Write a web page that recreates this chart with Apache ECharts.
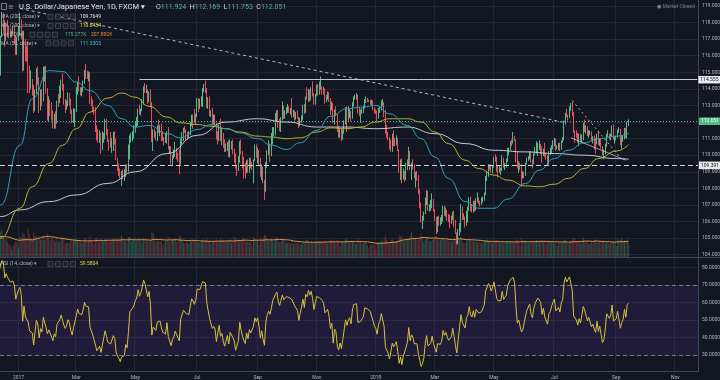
<!DOCTYPE html>
<html>
<head>
<meta charset="utf-8">
<title>USDJPY 1D</title>
<script src="https://cdn.jsdelivr.net/npm/echarts@6/dist/echarts.min.js"></script>
<style>
html,body{margin:0;padding:0;background:#131722;overflow:hidden;}
#chart{width:720px;height:380px;}
</style>
</head>
<body>
<div id="chart"></div>
<script>
// ================= DATA =================
const startDate = '2016-11-14';      // first (hidden warm-up) bar
const firstVisibleIndex = 22;        // 2016-12-14 is the first bar in view
const visibleBarCount = 508;         // bars across the plot, incl. empty future space

// daily bars: [open, high, low, close]
const ohlc = [
// 2016 Nov 14 - Dec 13 (warm-up, off-screen)
[106.65,108.55,106.6,108.45],[108.45,109.35,108.15,109.15],[109.15,109.6,108.55,109.1],[109.1,110.45,108.6,110.25],[110.25,110.95,110.0,110.9],
[110.9,111.35,110.3,110.8],[110.8,111.35,110.5,111.05],[111.05,112.75,110.95,112.45],[112.45,113.9,112.4,113.35],[113.35,113.5,112.65,113.2],
[113.2,113.3,111.35,112.0],[112.0,112.45,111.4,111.9],[111.9,114.8,111.8,114.45],[114.45,114.8,113.8,114.05],[114.05,114.2,113.35,113.5],
[113.5,114.75,112.9,113.95],[113.95,114.4,113.45,114.0],[114.0,114.4,113.6,113.75],[113.75,114.85,113.4,114.1],[114.1,115.35,113.9,115.3],
[115.3,116.1,114.8,115.2],[115.2,115.6,114.85,115.4],
// 2016 Dec 14 - 30
[115.4,117.2,114.8,117.15],[117.15,118.65,117.1,118.1],[118.1,118.6,117.45,117.95],[117.95,118.15,116.55,117.0],[117.0,118.0,116.9,117.85],
[117.85,118.15,117.1,117.6],[117.6,117.8,117.05,117.55],[117.55,117.65,117.1,117.3],[117.3,117.5,117.1,117.4],[117.4,117.8,117.3,117.45],
[117.45,117.85,116.7,117.2],[117.2,117.25,116.05,116.4],[116.4,117.15,116.05,116.95],
// 2017 Jan
[116.95,117.8,116.9,117.5],[117.5,118.6,117.2,117.75],[117.75,118.2,117.0,117.3],[117.3,117.5,115.05,115.35],[115.35,117.5,115.1,116.95],
[116.95,117.0,115.65,115.9],[115.9,116.6,115.65,115.75],[115.75,116.9,113.75,115.4],[115.4,115.4,113.75,114.45],[114.45,115.1,114.0,114.5],
[114.5,114.6,113.6,114.2],[114.2,114.25,112.55,112.7],[112.7,113.95,112.65,113.85],[113.85,115.25,113.7,115.05],[115.05,115.35,114.25,114.6],
[114.6,114.7,112.55,112.75],[112.75,113.95,112.7,113.75],[113.75,114.0,112.95,113.3],[113.3,115.35,113.25,115.05],[115.05,115.35,114.45,115.1],
[115.1,115.4,113.7,113.75],[113.75,114.05,112.1,112.8],
// 2017 Feb
[112.8,113.55,112.05,113.25],[113.25,113.35,112.35,112.8],[112.8,113.2,112.1,112.6],[112.6,112.7,111.6,111.7],[111.7,112.5,111.6,112.35],
[112.35,112.65,111.6,111.95],[111.95,113.3,111.9,113.25],[113.25,113.7,112.9,113.2],[113.2,114.2,113.15,113.7],[113.7,114.55,113.45,114.25],
[114.25,114.95,113.9,114.2],[114.2,114.3,113.05,113.2],[113.2,113.4,112.55,112.85],[112.85,113.3,112.75,113.15],[113.15,113.8,112.95,113.65],
[113.65,113.75,113.0,113.35],[113.35,113.4,112.5,112.6],[112.6,112.75,111.95,112.1],[112.1,112.85,111.95,112.7],[112.7,112.8,111.7,112.75],
// 2017 Mar
[112.75,114.1,112.6,113.75],[113.75,114.45,113.65,114.4],[114.4,114.75,113.85,114.05],[114.05,114.1,113.6,113.95],[113.95,114.1,113.55,113.95],
[113.95,114.5,113.8,114.35],[114.35,115.15,114.3,115.05],[115.05,115.5,114.6,114.8],[114.8,115.1,114.6,114.75],[114.75,115.05,114.45,114.75],
[114.75,115.0,113.1,113.35],[113.35,113.55,112.95,113.3],[113.3,113.35,112.6,112.7],[112.7,112.9,112.45,112.55],[112.55,112.9,111.4,111.75],
[111.75,111.8,110.9,111.15],[111.15,111.6,110.75,111.0],[111.0,111.5,110.75,111.3],[111.3,111.35,110.1,110.65],[110.65,111.45,110.3,111.05],
[111.05,111.35,110.75,111.05],[111.05,112.2,110.95,111.85],[111.85,112.2,111.2,111.4],
// 2017 Apr
[111.4,111.6,110.8,110.85],[110.85,110.95,110.25,110.75],[110.75,111.4,110.45,110.7],[110.7,111.05,110.15,110.75],[110.75,111.4,110.25,111.1],
[111.1,111.45,110.65,110.9],[110.9,111.0,109.7,109.75],[109.75,109.85,109.05,109.3],[109.3,109.5,108.75,109.05],[109.05,109.2,108.6,108.65],
[108.65,109.05,108.15,108.85],[108.85,109.15,108.55,108.75],[108.75,109.15,108.45,108.85],[108.85,109.45,108.7,109.3],[109.3,109.45,108.95,109.05],
[109.05,110.65,109.0,109.8],[109.8,111.2,109.75,111.05],[111.05,111.35,110.75,111.1],[111.1,111.45,110.85,111.3],[111.3,111.8,111.0,111.5],
// 2017 May
[111.5,112.05,111.35,111.85],[111.85,112.3,111.7,112.05],[112.05,112.8,111.75,112.75],[112.75,113.05,112.45,112.45],[112.45,112.8,112.4,112.7],
[112.7,113.4,112.65,113.25],[113.25,114.15,113.05,114.0],[114.0,114.35,113.75,113.85],[113.85,114.25,113.75,113.9],[113.9,113.95,113.1,113.3],
[113.3,113.85,113.2,113.75],[113.75,113.95,112.9,113.1],[113.1,113.2,110.8,110.85],[110.85,111.55,110.25,111.45],[111.45,111.6,111.05,111.3],
[111.3,111.45,110.9,111.15],[111.15,111.8,110.85,111.75],[111.75,112.15,111.35,111.6],[111.6,111.8,111.15,111.8],[111.8,111.9,110.85,111.3],
[111.3,111.45,110.85,110.95],[110.95,111.1,110.6,110.8],[110.8,111.35,110.75,110.8],
// 2017 Jun
[110.8,111.45,110.7,111.45],[111.45,111.7,110.35,110.4],[110.4,110.55,110.1,110.5],[110.5,110.55,109.45,109.5],[109.5,110.05,109.4,109.85],
[109.85,110.35,109.8,110.0],[110.0,110.8,109.9,110.35],[110.35,110.45,109.75,110.1],[110.1,110.15,109.6,110.05],[110.05,110.35,108.85,109.6],
[109.6,111.0,109.45,110.9],[110.9,111.4,110.65,110.9],[110.9,111.65,110.85,111.55],[111.55,111.75,111.35,111.45],[111.45,111.55,110.9,111.35],
[111.35,111.4,110.95,111.25],[111.25,111.45,111.05,111.3],[111.3,112.0,111.2,111.85],[111.85,112.45,111.75,112.35],[112.35,112.45,111.6,112.25],
[112.25,112.8,111.95,112.1],[112.1,112.5,111.85,112.4],
// 2017 Jul
[112.4,113.45,112.3,113.25],[113.25,113.45,112.6,113.2],[113.2,113.4,112.8,113.25],[113.25,113.55,112.95,113.25],[113.25,114.05,112.9,113.9],
[113.9,114.3,113.8,114.05],[114.05,114.5,113.75,113.95],[113.95,114.05,112.85,113.2],[113.2,113.5,112.8,113.3],[113.3,113.55,112.35,112.5],
[112.5,112.7,112.3,112.6],[112.6,112.85,111.8,111.95],[111.95,112.45,111.85,112.05],[112.05,112.45,111.7,111.9],[111.9,111.95,110.95,111.1],
[111.1,111.45,110.65,111.05],[111.05,111.85,110.85,111.85],[111.85,112.2,110.85,111.1],[111.1,111.65,110.6,111.25],[111.25,111.35,110.45,110.65],
[110.65,110.95,110.2,110.25],
// 2017 Aug
[110.25,110.7,110.2,110.3],[110.3,110.8,110.25,110.75],[110.75,110.9,109.9,110.1],[110.1,110.95,109.85,110.7],[110.7,110.85,110.35,110.75],
[110.75,110.95,110.05,110.3],[110.3,110.4,109.55,110.05],[110.05,110.1,109.2,109.25],[109.25,109.35,108.75,109.15],[109.15,109.95,109.05,109.65],
[109.65,110.85,109.55,110.7],[110.7,110.95,110.05,110.1],[110.1,110.25,109.2,109.6],[109.6,109.9,108.6,109.2],[109.2,109.55,108.6,108.95],
[108.95,109.7,108.9,109.55],[109.55,109.75,108.95,109.05],[109.05,109.85,108.95,109.6],[109.6,109.85,109.2,109.35],[109.35,109.6,109.1,109.2],
[109.2,109.75,108.3,109.7],[109.7,110.65,109.65,110.25],[110.25,110.65,109.85,110.0],
// 2017 Sep
[110.0,110.45,109.5,110.25],[110.25,110.3,109.35,109.7],[109.7,109.85,108.7,108.75],[108.75,109.45,108.5,109.2],[109.2,109.3,108.3,108.4],
[108.4,108.5,107.3,107.85],[107.85,109.6,107.8,109.5],[109.5,110.3,109.25,110.15],[110.15,110.9,110.0,110.5],[110.5,110.7,109.6,110.25],
[110.25,111.35,109.95,110.85],[110.85,111.7,110.65,111.6],[111.6,111.7,111.15,111.6],[111.6,112.55,111.2,112.3],[112.3,112.7,112.05,112.55],
[112.55,112.75,111.65,111.95],[111.95,112.2,111.45,111.7],[111.7,112.3,111.4,112.2],[112.2,113.25,112.1,112.75],[112.75,113.0,112.2,112.45],
[112.45,112.7,112.2,112.5],
// 2017 Oct
[112.5,112.9,112.45,112.75],[112.75,113.1,112.55,112.85],[112.85,112.95,112.55,112.75],[112.75,112.85,112.45,112.75],[112.75,113.45,112.25,112.65],
[112.65,112.75,112.3,112.65],[112.65,112.7,112.1,112.4],[112.4,112.6,112.15,112.5],[112.5,112.7,112.2,112.25],[112.25,112.3,111.65,111.8],
[111.8,112.25,111.75,112.15],[112.15,112.4,111.95,112.2],[112.2,113.05,112.1,112.95],[112.95,113.1,112.5,112.6],[112.6,113.55,112.55,113.5],
[113.5,114.1,113.35,113.4],[113.4,114.0,113.2,113.9],[113.9,113.95,113.25,113.7],[113.7,114.1,113.3,114.0],[114.0,114.45,113.55,113.7],
[113.7,113.75,113.05,113.2],[113.2,113.7,113.05,113.65],
// 2017 Nov
[113.65,114.25,113.55,114.1],[114.1,114.3,113.6,114.05],[114.05,114.45,113.65,114.05],[114.05,114.75,113.95,114.05],[114.05,114.15,113.65,113.95],
[113.95,114.15,113.65,113.85],[113.85,114.05,113.1,113.5],[113.5,113.65,113.2,113.5],[113.5,113.85,113.35,113.65],[113.65,113.8,113.2,113.4],
[113.4,113.45,112.45,112.9],[112.9,113.25,112.7,113.1],[113.1,113.15,111.95,112.05],[112.05,112.75,111.85,112.65],[112.65,112.95,112.35,112.5],
[112.5,112.55,111.4,111.5],[111.5,111.75,111.05,111.2],[111.2,111.6,111.05,111.5],[111.5,111.65,110.85,111.05],[111.05,111.55,110.95,111.45],
[111.45,112.1,111.3,111.95],[111.95,112.9,111.85,112.5],
// 2017 Dec
[112.5,112.95,111.4,112.15],[112.15,112.95,112.1,112.45],[112.45,112.8,112.25,112.6],[112.6,112.7,112.05,112.25],[112.25,113.2,112.2,113.1],
[113.1,113.55,112.95,113.5],[113.5,113.65,113.35,113.55],[113.55,113.75,113.35,113.55],[113.55,113.65,112.5,112.55],[112.55,112.9,112.35,112.45],
[112.45,112.75,111.95,112.6],[112.6,112.85,112.5,112.65],[112.65,113.0,112.55,112.85],[112.85,113.4,112.8,113.35],[113.35,113.55,113.15,113.35],
[113.35,113.45,113.2,113.3],[113.3,113.35,113.2,113.25],[113.25,113.35,113.05,113.2],[113.2,113.35,113.0,113.25],[113.25,113.3,112.7,112.85],
[112.85,112.9,112.5,112.65],
// 2018 Jan
[112.65,112.75,112.5,112.55],[112.55,112.7,112.05,112.3],[112.3,112.85,112.2,112.65],[112.65,112.95,112.55,112.75],[112.75,113.3,112.7,113.05],
[113.05,113.4,112.95,113.1],[113.1,113.2,112.3,112.6],[112.6,112.75,111.3,111.45],[111.45,111.85,111.05,111.25],[111.25,111.4,110.9,111.0],
[111.0,111.1,110.35,110.55],[110.55,110.95,110.2,110.45],[110.45,111.3,110.2,111.05],[111.05,111.5,110.55,110.8],[110.8,111.05,110.55,110.75],
[110.75,111.2,110.6,110.95],[110.95,111.05,110.25,110.3],[110.3,110.35,108.95,109.2],[109.2,109.75,108.5,109.45],[109.45,109.8,108.3,108.6],
[108.6,109.2,108.55,108.95],[108.95,109.05,108.4,108.75],[108.75,109.55,108.5,109.2],
// 2018 Feb
[109.2,109.75,109.1,109.45],[109.45,110.5,109.35,110.2],[110.2,110.25,109.1,109.15],[109.15,109.55,108.5,109.5],[109.5,109.75,109.15,109.3],
[109.3,109.45,108.6,108.75],[108.75,109.0,108.05,108.8],[108.8,109.05,108.45,108.7],[108.7,108.8,107.65,107.8],[107.8,107.95,106.8,107.05],
[107.05,107.15,105.95,106.15],[106.15,106.35,105.55,106.3],[106.3,106.6,106.05,106.55],[106.55,107.45,106.45,107.3],[107.3,107.9,107.0,107.75],
[107.75,107.85,106.65,106.75],[106.75,107.05,106.6,106.85],[106.85,107.3,106.65,106.9],[106.9,107.7,106.8,107.3],[107.3,107.35,106.6,106.65],
// 2018 Mar
[106.65,106.75,106.05,106.2],[106.2,106.3,105.25,105.75],[105.75,106.3,105.35,106.2],[106.2,106.35,105.75,106.05],[106.05,106.25,105.75,106.1],
[106.1,106.4,105.85,106.25],[106.25,106.95,106.0,106.8],[106.8,106.95,106.35,106.45],[106.45,106.85,106.3,106.6],[106.6,106.7,106.05,106.3],
[106.3,106.45,105.95,106.05],[106.05,106.4,105.6,105.95],[105.95,106.35,105.85,106.15],[106.15,106.6,106.1,106.55],[106.55,106.65,105.65,106.05],
[106.05,106.1,105.25,105.3],[105.3,105.35,104.6,104.7],[104.7,105.55,104.65,105.35],[105.35,105.9,105.15,105.4],[105.4,107.05,105.35,106.85],
[106.85,106.9,106.1,106.3],[106.3,106.5,106.1,106.25],
// 2018 Apr
[106.25,106.3,105.65,105.9],[105.9,106.65,105.75,106.6],[106.6,106.9,105.95,106.75],[106.75,107.45,106.65,107.4],[107.4,107.5,106.6,106.9],
[106.9,107.05,106.55,106.75],[106.75,107.25,106.55,107.2],[107.2,107.25,106.6,106.8],[106.8,107.4,106.65,107.35],[107.35,107.75,107.15,107.35],
[107.35,107.45,107.05,107.15],[107.15,107.25,106.9,107.1],[107.1,107.45,107.0,107.25],[107.25,107.5,107.15,107.35],[107.35,107.75,107.25,107.65],
[107.65,108.75,107.6,108.7],[108.7,109.05,108.45,108.8],[108.8,109.45,108.7,109.35],[109.35,109.45,109.1,109.25],[109.25,109.45,108.95,109.05],
[109.05,109.35,108.9,109.35],
// 2018 May
[109.35,109.9,109.25,109.85],[109.85,110.05,109.6,109.8],[109.8,109.9,109.0,109.2],[109.2,109.35,108.65,109.1],[109.1,109.35,108.95,109.1],
[109.1,109.25,108.8,109.1],[109.1,110.0,109.05,109.7],[109.7,109.85,109.25,109.4],[109.4,109.55,109.1,109.4],[109.4,109.8,109.25,109.65],
[109.65,110.45,109.6,110.3],[110.3,110.45,110.0,110.35],[110.35,110.85,110.3,110.8],[110.8,110.95,110.55,110.75],[110.75,111.4,110.7,111.05],
[111.05,111.15,110.85,110.9],[110.9,110.95,109.55,110.05],[110.05,110.2,109.2,109.25],[109.25,109.65,108.95,109.4],[109.4,109.55,109.1,109.35],
[109.35,109.45,108.1,108.75],[108.75,109.05,108.6,108.85],[108.85,109.0,108.6,108.8],
// 2018 Jun
[108.8,109.55,108.75,109.5],[109.5,109.85,109.45,109.8],[109.8,109.95,109.65,109.8],[109.8,110.25,109.75,110.15],[110.15,110.25,109.55,109.7],
[109.7,109.75,109.2,109.55],[109.55,110.1,109.45,110.05],[110.05,110.5,110.0,110.35],[110.35,110.85,110.1,110.35],[110.35,110.75,109.95,110.65],
[110.65,110.9,110.3,110.65],[110.65,110.7,110.05,110.5],[110.5,110.55,109.55,110.05],[110.05,110.4,109.95,110.35],[110.35,110.75,109.9,110.0],
[110.0,110.15,109.75,109.95],[109.95,110.0,109.35,109.7],[109.7,110.25,109.45,110.15],[110.15,110.45,110.0,110.25],[110.25,110.6,110.1,110.5],
[110.5,110.9,110.35,110.7],
// 2018 Jul
[110.7,111.05,110.55,110.85],[110.85,111.0,110.25,110.45],[110.45,110.6,110.35,110.5],[110.5,110.75,110.3,110.6],[110.6,110.75,110.25,110.45],
[110.45,110.9,110.3,110.85],[110.85,111.1,110.75,111.0],[111.0,112.1,110.9,112.0],[112.0,112.55,111.85,112.5],[112.5,112.8,112.3,112.35],
[112.35,112.45,112.1,112.3],[112.3,112.95,112.25,112.85],[112.85,113.15,112.65,112.9],[112.9,113.2,112.35,112.45],[112.45,112.6,111.35,111.4],
[111.4,111.5,110.75,111.3],[111.3,111.5,111.05,111.2],[111.2,111.35,110.75,110.95],[110.95,111.3,110.55,111.25],[111.25,111.3,110.8,111.05],
[111.05,111.25,110.75,111.05],[111.05,111.95,110.9,111.85],
// 2018 Aug
[111.85,112.15,111.4,111.7],[111.7,111.8,111.3,111.7],[111.7,111.75,111.15,111.25],[111.25,111.5,111.05,111.4],[111.4,111.5,111.2,111.4],
[111.4,111.45,110.85,111.0],[111.0,111.15,110.7,111.1],[111.1,111.2,110.35,110.9],[110.9,111.05,110.1,110.75],[110.75,111.3,110.65,111.15],
[111.15,111.45,110.6,110.7],[110.7,111.0,110.55,110.9],[110.9,111.0,110.4,110.5],[110.5,110.55,110.0,110.05],[110.05,110.35,109.75,110.15],
[110.15,110.7,110.05,110.55],[110.55,111.3,110.5,111.25],[111.25,111.5,111.1,111.25],[111.25,111.3,110.95,111.05],[111.05,111.3,110.9,111.2],
[111.2,111.8,111.15,111.7],[111.7,111.85,110.95,111.0],[111.0,111.15,110.7,111.05],
// 2018 Sep 3 - 14
[111.05,111.15,110.9,111.1],[111.1,111.55,111.05,111.45],[111.45,111.7,111.35,111.5],[111.5,111.6,110.6,110.7],[110.7,111.15,110.4,110.95],
[110.95,111.2,110.8,111.1],[111.1,111.65,110.95,111.6],[111.6,111.65,111.05,111.25],[111.25,112.0,111.0,111.95],[111.924,112.169,111.753,112.051]
];

// daily volume, thousands
const volumesK = [
380,340,310,330,300,260,240,290,250,150,300,280,330,270,260,250,220,240,280,260,230,240,
330,360,270,240,230,200,170,150,90,140,180,210,190,
120,260,250,330,300,250,240,380,300,240,220,320,270,280,240,250,230,220,280,220,260,300,
260,220,250,240,220,200,230,210,200,240,260,230,170,190,180,190,220,200,210,230,
230,220,210,200,180,190,230,240,190,210,270,220,200,170,240,250,220,200,230,210,200,240,230,
200,210,200,230,240,200,250,230,220,240,280,220,210,200,190,260,260,200,210,220,
200,210,240,220,230,190,240,230,210,220,190,220,330,310,230,200,220,210,200,210,160,190,210,
220,260,190,240,220,230,240,190,200,280,260,230,190,180,200,190,180,200,210,220,210,200,
200,180,190,200,230,190,220,240,200,220,180,210,200,190,230,200,210,240,200,220,200,
200,190,210,230,180,200,260,240,230,220,230,220,240,250,210,190,210,190,200,170,260,230,220,
220,160,240,210,250,290,280,230,210,230,240,210,190,230,260,210,190,200,240,210,200,
180,190,180,170,230,170,180,190,180,200,160,180,200,190,210,230,200,180,200,190,180,200,
190,200,200,190,200,190,210,190,180,200,220,190,230,200,180,220,200,150,200,190,200,230,
240,200,190,210,200,200,170,180,240,200,190,170,180,200,190,160,120,150,160,170,160,
100,190,200,190,220,190,240,280,230,200,180,220,230,210,200,200,220,290,260,280,220,210,240,
230,250,280,330,260,240,250,220,230,270,310,260,200,230,240,250,210,200,220,230,
240,280,240,210,220,230,250,220,220,230,210,230,200,220,250,240,280,250,230,260,200,180,
180,210,220,230,220,200,210,200,200,190,200,190,180,190,200,220,230,210,190,200,180,
190,210,220,200,190,180,200,180,180,190,210,190,200,190,200,180,230,220,200,150,250,210,220,
210,190,180,190,200,190,190,210,220,200,210,200,220,200,210,180,200,210,190,200,190,
170,200,150,190,200,180,190,220,230,190,170,200,210,220,250,240,210,200,210,180,190,250,
200,190,210,170,180,190,180,220,230,200,200,210,190,200,210,180,200,190,170,180,190,200,200,
150,230,210,220,240,200,220,210,230,175.277
];

// moving averages (sparse points)
const ma200Points = [['2016-12-01',106.2],['2016-12-14',106.3],['2017-01-03',106.7],['2017-02-01',107.2],['2017-03-01',107.6],['2017-04-03',108.3],['2017-05-01',109.0],['2017-06-01',110.1],['2017-07-03',111.2],['2017-08-01',112.0],['2017-09-01',112.2],['2017-10-02',112.0],['2017-11-01',111.7],['2017-12-01',111.7],['2018-01-01',111.6],['2018-02-01',111.7],['2018-03-01',111.3],['2018-04-02',110.7],['2018-05-01',110.3],['2018-06-01',110.2],['2018-07-02',110.1],['2018-08-01',110.0],['2018-09-03',109.8],['2018-09-14',109.76]];
const ma100Points = [['2016-12-01',104.2],['2016-12-14',105.0],['2017-01-03',106.8],['2017-01-16',108.1],['2017-02-01',109.5],['2017-02-15',110.6],['2017-03-01',111.6],['2017-03-15',112.6],['2017-04-03',113.45],['2017-04-17',113.75],['2017-05-01',113.5],['2017-05-15',112.95],['2017-06-01',112.3],['2017-06-15',111.95],['2017-07-03',111.85],['2017-07-17',111.75],['2017-08-01',111.6],['2017-08-15',111.4],['2017-09-01',111.15],['2017-09-15',111.1],['2017-10-02',111.0],['2017-10-16',111.05],['2017-11-01',111.4],['2017-11-15',111.65],['2017-12-01',111.6],['2017-12-15',111.7],['2018-01-01',112.0],['2018-01-15',112.2],['2018-02-01',112.2],['2018-02-15',112.0],['2018-03-01',111.4],['2018-03-15',110.7],['2018-04-02',109.7],['2018-04-16',109.2],['2018-05-01',108.8],['2018-05-15',108.5],['2018-06-01',108.15],['2018-06-15',108.1],['2018-07-02',108.25],['2018-07-16',108.6],['2018-08-01',109.2],['2018-08-15',109.8],['2018-09-03',110.25],['2018-09-14',110.64]];
const ma50Points = [['2016-12-01',105.4],['2016-12-14',107.0],['2017-01-03',110.6],['2017-01-16',113.4],['2017-02-01',115.1],['2017-02-15',115.05],['2017-03-01',114.4],['2017-03-15',113.9],['2017-04-03',113.0],['2017-04-17',112.2],['2017-05-01',111.7],['2017-05-15',111.8],['2017-06-01',111.3],['2017-06-15',111.05],['2017-07-03',111.55],['2017-07-17',111.85],['2017-08-01',111.6],['2017-08-15',111.35],['2017-09-01',111.0],['2017-09-15',110.6],['2017-10-02',110.35],['2017-10-16',110.75],['2017-11-01',111.5],['2017-11-15',112.35],['2017-12-01',112.8],['2017-12-15',112.9],['2018-01-01',113.0],['2018-01-15',112.5],['2018-02-01',111.8],['2018-02-15',111.0],['2018-03-01',109.9],['2018-03-15',108.6],['2018-04-02',107.2],['2018-04-16',106.8],['2018-05-01',106.8],['2018-05-15',107.35],['2018-06-01',108.3],['2018-06-15',109.1],['2018-07-02',109.8],['2018-07-16',110.3],['2018-08-01',110.75],['2018-08-15',111.0],['2018-09-03',111.15],['2018-09-14',111.33]];

// x-axis tick labels (first trading day of the month)
const xTickLabels = [['2017-01-02','2017'],['2017-03-01','Mar'],['2017-05-01','May'],['2017-07-03','Jul'],['2017-09-01','Sep'],['2017-11-01','Nov'],['2018-01-01','2018'],['2018-03-01','Mar'],['2018-05-01','May'],['2018-07-02','Jul'],['2018-09-03','Sep'],['2018-11-01','Nov']];

// drawn lines / levels
const levelLines = [114.555, 109.391, 112.051];
const level114Start = '2017-05-04';
const trendLines = [
  [['2017-01-03',118.85],['2018-07-10',112.0]],
  [['2018-07-19',113.3],['2018-09-06',109.85]],
  [['2018-07-18',111.05],['2018-09-12',109.7]]
];

// legend texts
const headerTitle = 'U.S. Dollar/Japanese Yen, 1D, FXCM \u25BE';
const headerOHLC = ['111.924','112.169','111.753','112.051'];
const maLegendNames = ['MA (200, close) \u25BE','MA (100, close) \u25BE','Vol (20) \u25BE','MA (50, close) \u25BE'];
const maLegendValues = ['109.7649','110.6434','111.3305'];
const volLegendValues = ['175.277K','207.892K'];
const rsiLegendName = 'RSI (14, close) \u25BE';
const rsiLegendValue = '59.5804';

// ================= BUILD =================
const C = {bg:'#131722', grid:'#232733', axis:'#434651', text:'#b2b5be', up:'#53b987', down:'#eb4d5c',
  ma200:'#c6c9d1', ma100:'#b9b32e', ma50:'#2aa5b9', rsi:'#d3c33a', volMa:'#e0903c', white:'#d1d4dc'};
const FONT = 'Roboto, "DejaVu Sans", Arial, sans-serif';

function weekdays(start, n) {
  const out = []; const d = new Date(start + 'T00:00:00Z');
  while (out.length < n) { const w = d.getUTCDay(); if (w !== 0 && w !== 6) out.push(d.toISOString().slice(0,10)); d.setUTCDate(d.getUTCDate()+1); }
  return out;
}
const dates = weekdays(startDate, firstVisibleIndex + visibleBarCount);
const di = d => dates.indexOf(d);
const xMin = firstVisibleIndex, xMax = firstVisibleIndex + visibleBarCount - 1;
const tickMap = new Map(xTickLabels);

const closes = ohlc.map(r => r[3]);
function wilderRSI(cl, n) {
  const out = new Array(cl.length).fill(null);
  let g = 0, l = 0;
  for (let i = 1; i <= n; i++) { const d = cl[i]-cl[i-1]; if (d > 0) g += d; else l -= d; }
  g /= n; l /= n; out[n] = l === 0 ? 100 : 100 - 100/(1+g/l);
  for (let i = n+1; i < cl.length; i++) {
    const d = cl[i]-cl[i-1];
    g = (g*(n-1) + Math.max(d,0))/n; l = (l*(n-1) + Math.max(-d,0))/n;
    out[i] = l === 0 ? 100 : 100 - 100/(1+g/l);
  }
  return out;
}
const rsi = wilderRSI(closes, 14);
const volMA = volumesK.map((v,i) => i < 19 ? null : volumesK.slice(i-19, i+1).reduce((a,b)=>a+b,0)/20);

const candleData = ohlc.map(r => [r[0], r[3], r[2], r[1]]);
const volData = volumesK.map((v,i) => ({value:v, itemStyle:{color: ohlc[i][3] >= ohlc[i][0] ? 'rgba(83,185,135,0.36)' : 'rgba(235,77,92,0.36)'}}));
const toLine = pts => pts.map(p => [di(p[0]), p[1]]);

function catAxis(gi) {
  return {type:'category', gridIndex:gi, data:dates, min:xMin, max:xMax, boundaryGap:true, show:false,
    axisLine:{show:false}, axisTick:{show:false}, axisLabel:{show:false}, splitLine:{show:false}};
}
const tagLabel = (txt, bg, fg) => ({show:true, position:'end', distance:1, formatter:txt, color:fg, backgroundColor:bg,
  fontSize:5, fontFamily:FONT, padding:[1.5,2,1,2]});

const markLines = [
  [{coord:[di(trendLines[0][0][0]), trendLines[0][0][1]], lineStyle:{color:C.white, type:[3,3], width:1, opacity:0.85}},
   {coord:[di(trendLines[0][1][0]), trendLines[0][1][1]]}],
  [{coord:[di(trendLines[1][0][0]), trendLines[1][0][1]], lineStyle:{color:C.white, type:[2,3], width:1, opacity:0.8}},
   {coord:[di(trendLines[1][1][0]), trendLines[1][1][1]]}],
  [{coord:[di(trendLines[2][0][0]), trendLines[2][0][1]], lineStyle:{color:C.white, type:'solid', width:1, opacity:0.7}},
   {coord:[di(trendLines[2][1][0]), trendLines[2][1][1]]}],
  [{coord:[di(level114Start), levelLines[0]], lineStyle:{color:'#c3c6ce', type:'solid', width:1}},
   {coord:[xMax, levelLines[0]], label:tagLabel(levelLines[0].toFixed(3), '#e8e9ec', '#131722')}],
  {yAxis:levelLines[1], lineStyle:{color:C.white, type:[5,3], width:1}, label:tagLabel(levelLines[1].toFixed(3), '#e8e9ec', '#131722')},
  {yAxis:levelLines[2], lineStyle:{color:C.up, type:[1,2], width:1}, label:tagLabel(levelLines[2].toFixed(3), C.up, '#ffffff')}
];

// ---------- legend graphics ----------
const G = [];
const txt = (x, y, text, fill, size, extra) => G.push({type:'text', x, y, silent:true, z:100,
  style:Object.assign({text, fill, fontSize:size, fontFamily:FONT, verticalAlign:'middle', align:'left'}, extra || {})});
const squares = (x, y) => { for (let k = 0; k < 4; k++) G.push({type:'rect', silent:true, z:100,
  shape:{x:x + k*7.5, y:y-2.5, width:5, height:5}, style:{fill:'rgba(30,34,45,0.9)', stroke:'#50535e', lineWidth:0.7}}); };

G.push({type:'rect', silent:true, z:100, shape:{x:1.5, y:3.5, width:5, height:6}, style:{fill:'none', stroke:'#9598a1', lineWidth:0.8}});
txt(8, 7, '\u2261', '#9598a1', 7);
txt(19, 7, headerTitle, '#e1e3ea', 7.5);
txt(156, 7, '{k|O}{v|' + headerOHLC[0] + '}  {k|H}{v|' + headerOHLC[1] + '}  {k|L}{v|' + headerOHLC[2] + '}  {k|C}{v|' + headerOHLC[3] + '}', C.white, 7,
  {rich:{k:{fill:'#d1d4dc', fontSize:7, fontFamily:FONT}, v:{fill:C.up, fontSize:7, fontFamily:FONT}}});
const rowsY = [16.7, 26, 34.7, 43.3];
txt(1, rowsY[0], maLegendNames[0], C.text, 5); squares(48, rowsY[0]); txt(80, rowsY[0], maLegendValues[0], '#e6e7ea', 5);
txt(1, rowsY[1], maLegendNames[1], C.text, 5); squares(48, rowsY[1]); txt(80, rowsY[1], maLegendValues[1], '#e8e14a', 5);
txt(1, rowsY[2], maLegendNames[2], C.text, 5); squares(30, rowsY[2]); txt(65, rowsY[2], volLegendValues[0], C.up, 5); txt(91, rowsY[2], volLegendValues[1], C.volMa, 5);
txt(1, rowsY[3], maLegendNames[3], C.text, 5); squares(46, rowsY[3]); txt(80, rowsY[3], maLegendValues[2], '#3cc3d6', 5);
txt(1, 264, rsiLegendName, C.text, 5); squares(48, 264); txt(80, 264, rsiLegendValue, '#e8d84a', 5);
txt(657, 7, '\u25CF Market Closed', '#787b86', 5);
G.push({type:'line', silent:true, z:90, shape:{x1:0, y1:257.5, x2:720, y2:257.5}, style:{stroke:C.axis, lineWidth:1}});

const option = {
  backgroundColor: C.bg,
  animation: false,
  grid: [
    {left:0, right:22, top:0, height:371, containLabel:false, outerBoundsMode:'none'},      // frame
    {left:0, right:22, top:6, height:248.7, containLabel:false, outerBoundsMode:'none'},    // price
    {left:0, right:22, top:200, height:57, containLabel:false, outerBoundsMode:'none'},     // volume
    {left:0, right:22, top:267.5, height:87.5, containLabel:false, outerBoundsMode:'none'}  // RSI
  ],
  xAxis: [
    {type:'category', gridIndex:0, data:dates, min:xMin, max:xMax, boundaryGap:true,
     axisLine:{show:true, lineStyle:{color:C.axis, width:1}}, axisTick:{show:false, alignWithLabel:true},
     axisLabel:{show:true, interval:(i) => tickMap.has(dates[i]), formatter:(v) => tickMap.get(v) || '',
       color:C.text, fontSize:5, fontFamily:FONT, margin:4},
     splitLine:{show:true, interval:(i) => tickMap.has(dates[i]), lineStyle:{color:C.grid, width:1}}},
    catAxis(1), catAxis(2), catAxis(3)
  ],
  yAxis: [
    {type:'value', gridIndex:0, position:'right', min:0, max:1, axisLine:{show:true, lineStyle:{color:C.axis}},
     axisTick:{show:false}, axisLabel:{show:false}, splitLine:{show:false}},
    {type:'value', gridIndex:1, position:'right', min:104, max:119, interval:1, scale:true,
     axisLine:{show:false}, axisTick:{show:false},
     axisLabel:{color:C.text, fontSize:5, fontFamily:FONT, margin:4, formatter:v => v.toFixed(3)},
     splitLine:{show:true, lineStyle:{color:C.grid, width:1}}},
    {type:'value', gridIndex:2, min:0, max:740, show:false, splitLine:{show:false}},
    {type:'value', gridIndex:3, position:'right', min:30, max:80, interval:10,
     axisLine:{show:false}, axisTick:{show:false},
     axisLabel:{color:C.text, fontSize:5, fontFamily:FONT, margin:4, formatter:v => v.toFixed(4)},
     splitLine:{show:true, lineStyle:{color:C.grid, width:1}}}
  ],
  series: [
    {type:'bar', name:'Volume', xAxisIndex:2, yAxisIndex:2, data:volData, barWidth:1, silent:true, z:1},
    {type:'line', name:'Vol MA', xAxisIndex:2, yAxisIndex:2, data:volMA, showSymbol:false, symbol:'none',
     lineStyle:{color:C.volMa, width:1}, silent:true, z:2},
    {type:'candlestick', name:'USDJPY', xAxisIndex:1, yAxisIndex:1, data:candleData, barWidth:1, silent:true, z:3,
     itemStyle:{color:C.up, color0:C.down, borderColor:C.up, borderColor0:C.down, borderWidth:1}},
    {type:'line', name:'MA200', xAxisIndex:1, yAxisIndex:1, data:toLine(ma200Points), smooth:0.5, smoothMonotone:'x',
     showSymbol:false, symbol:'none', lineStyle:{color:C.ma200, width:1}, silent:true, z:4},
    {type:'line', name:'MA100', xAxisIndex:1, yAxisIndex:1, data:toLine(ma100Points), smooth:0.5, smoothMonotone:'x',
     showSymbol:false, symbol:'none', lineStyle:{color:C.ma100, width:1}, silent:true, z:4},
    {type:'line', name:'MA50', xAxisIndex:1, yAxisIndex:1, data:toLine(ma50Points), smooth:0.5, smoothMonotone:'x',
     showSymbol:false, symbol:'none', lineStyle:{color:C.ma50, width:1}, silent:true, z:4},
    {type:'line', name:'Drawings', xAxisIndex:1, yAxisIndex:1, data:[], clip:false, silent:true, z:10,
     markLine:{silent:true, animation:false, symbol:['none','none'], label:{show:false}, data:markLines}},
    {type:'line', name:'RSI', xAxisIndex:3, yAxisIndex:3, data:rsi, clip:false, showSymbol:false, symbol:'none',
     lineStyle:{color:C.rsi, width:1}, silent:true, z:5,
     markArea:{silent:true, itemStyle:{color:'rgba(110,55,200,0.14)'}, data:[[{yAxis:30},{yAxis:70}]]},
     markLine:{silent:true, animation:false, symbol:['none','none'], label:{show:false},
       lineStyle:{color:'#787b86', type:[4,3], width:1}, data:[{yAxis:70},{yAxis:30}]}}
  ],
  graphic: G
};

const chart = echarts.init(document.getElementById('chart'), null, {renderer:'canvas', width:720, height:380});
chart.setOption(option);
</script>
</body>
</html>
